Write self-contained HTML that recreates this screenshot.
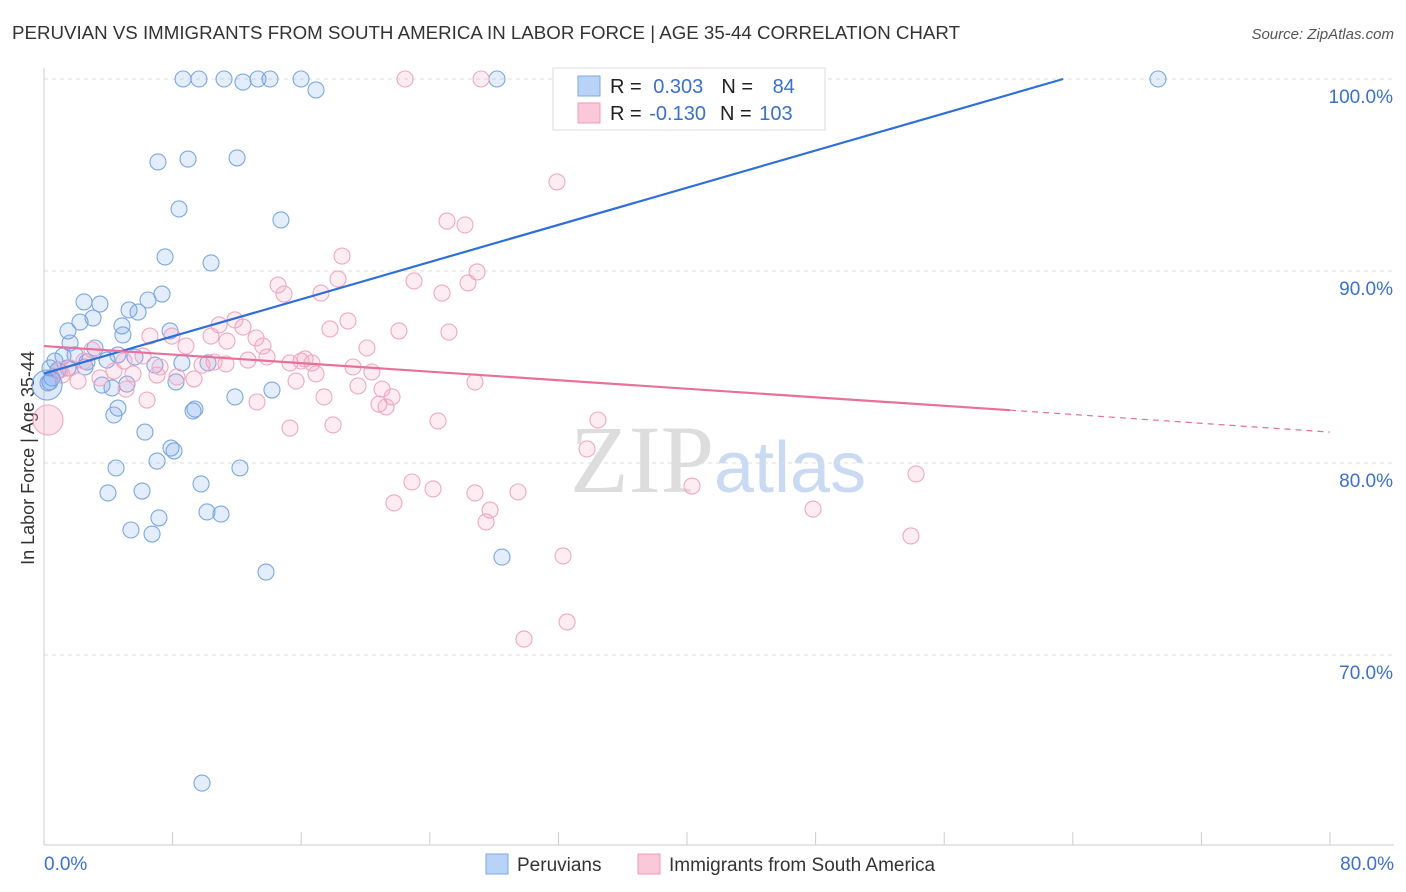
<!DOCTYPE html>
<html><head><meta charset="utf-8">
<style>
body{margin:0;background:#fff;font-family:"Liberation Sans",sans-serif;}
#wrap{position:relative;width:1406px;height:892px;overflow:hidden;}
svg{position:absolute;left:0;top:0;}
</style></head>
<body><div id="wrap">
<svg id="svg" width="1406" height="892">
<text x="12" y="39" font-size="18" fill="#333" textLength="948" lengthAdjust="spacingAndGlyphs">PERUVIAN VS IMMIGRANTS FROM SOUTH AMERICA IN LABOR FORCE | AGE 35-44 CORRELATION CHART</text>
<text x="1394" y="39" font-size="15" fill="#555" font-style="italic" text-anchor="end">Source: ZipAtlas.com</text>
<text x="714" y="492" font-size="96" fill="#ddd" font-family="Liberation Serif,serif" text-anchor="end">ZIP</text>
<text x="714" y="492" font-size="72" fill="#c9daf2">atlas</text>
<text transform="translate(34,458) rotate(-90)" font-size="18" fill="#333" text-anchor="middle">In Labor Force | Age 35-44</text>
<g id="grid"></g><g id="pts"></g><g id="lines"></g>
<rect x="553" y="68" width="272" height="62" fill="#fff" stroke="#ddd"/>
<rect x="578" y="76" width="22" height="20" fill="#b8d3f5" stroke="#7eaae6"/>
<rect x="578" y="103" width="22" height="20" fill="#fac8d8" stroke="#f09ab8"/>
<text x="610" y="93" font-size="20" fill="#222">R = <tspan fill="#3a70d0" dx="6">0.303</tspan><tspan dx="18">N = </tspan><tspan fill="#3a70d0" dx="14">84</tspan></text>
<text x="610" y="120" font-size="20" fill="#222">R = <tspan fill="#3a70d0" dx="2">-0.130</tspan><tspan dx="14">N = </tspan><tspan fill="#3a70d0" dx="2">103</tspan></text>
<text x="44" y="870" font-size="19" fill="#3a70d0">0.0%</text>
<text x="1394" y="870" font-size="19" fill="#3a70d0" text-anchor="end">80.0%</text>
<rect x="486" y="854" width="22" height="20" fill="#b8d3f5" stroke="#7eaae6"/>
<text x="517" y="871" font-size="19" fill="#333">Peruvians</text>
<rect x="638" y="854" width="22" height="20" fill="#fac8d8" stroke="#f09ab8"/>
<text x="669" y="871" font-size="19" fill="#333">Immigrants from South America</text>
</svg></div>
<script>
const yTicks=[100,90,80,70];
const yTickLabels=["100.0%","90.0%","80.0%","70.0%"];
const blueX=[8.65,9.64,11.2,12.38,13.31,14.06,15.99,16.92,28.18,69.3,7.09,8.96,12.01,8.4,14.74,7.53,10.39,2.49,3.48,5.29,6.47,7.34,5.85,3.05,2.24,1.49,4.85,4.91,7.84,1.62,3.17,1.18,1.93,0.68,2.67,3.92,4.6,5.66,6.9,8.58,10.2,0.37,0.87,1.49,2.55,0.5,0.37,3.61,4.23,5.16,8.21,14.18,11.88,4.6,4.35,9.39,9.27,6.28,7.9,8.09,7.03,4.48,12.19,9.77,3.98,6.1,10.14,11.01,7.15,5.41,6.72,13.81,28.49,9.83,0.25];
const blueY=[100,100,100,99.84,100,100,100,99.43,100,100,95.68,95.83,95.89,93.23,92.66,90.73,90.42,88.39,88.28,87.97,88.49,88.8,87.86,87.55,87.34,86.88,87.14,86.67,86.88,86.25,85.99,85.57,85.63,85.31,85.26,85.36,85.63,85.52,85.1,85.21,85.21,84.95,84.84,84.95,85.0,84.43,84.22,84.06,83.91,84.11,84.22,83.8,83.44,82.86,82.5,82.81,82.71,81.61,80.78,80.63,80.1,79.74,79.74,78.91,78.44,78.54,77.45,77.34,77.14,76.51,76.3,74.32,75.1,63.33,84.17];
const pinkX=[22.46,27.19,31.91,25.07,26.19,18.54,26.94,26.38,23.02,18.29,14.56,14.93,17.23,24.76,11.88,10.89,12.38,18.91,17.79,22.08,25.19,6.59,7.96,8.83,10.39,11.38,13.19,13.62,20.09,16.24,12.69,13.87,15.99,10.58,9.83,16.67,19.22,20.4,16.92,15.68,8.27,9.33,7.03,5.54,3.48,4.35,26.81,19.53,21.03,17.42,6.41,13.25,21.65,20.84,21.28,34.46,33.78,15.3,17.98,24.51,22.89,24.2,26.81,29.49,40.31,54.25,21.77,27.75,27.5,47.84,53.93,32.29,29.86,32.54,2.99,2.49,1.62,1.12,2.12,4.98,7.22,11.32,15.3,5.1,6.16,1.0];
const pinkY=[100,100,94.64,92.6,92.4,90.78,89.95,89.38,89.48,89.58,89.27,88.8,88.85,88.85,87.45,87.19,87.08,87.4,86.98,86.88,86.82,86.61,86.61,86.09,86.61,86.35,86.51,86.09,85.99,85.42,85.36,85.52,85.31,85.26,85.1,85.21,85.0,84.74,84.64,84.27,84.48,84.38,84.58,84.64,84.43,84.79,84.22,84.01,83.85,83.44,83.28,83.18,83.44,83.07,82.92,82.24,80.73,81.82,81.98,82.19,79.01,78.65,78.44,78.49,78.8,79.43,77.92,77.55,76.93,77.6,76.2,75.16,70.83,71.72,85.89,85.31,84.95,84.58,84.27,85.31,85.0,85.16,85.21,83.85,85.57,84.84];
const bigBlue=[0.19,84.06], bigPink=[0.25,82.24];
const blueTrend=[0,84.66,63.4,100];
const pinkTrend=[0,86.09,60.1,82.75,80,81.61];
const X=v=>44+v*16.075, Y=v=>79+(100-v)*19.2;
const NS="http://www.w3.org/2000/svg";
function mk(t,a,p){const e=document.createElementNS(NS,t);for(const k in a)e.setAttribute(k,a[k]);p.appendChild(e);return e;}
const grid=document.getElementById('grid'),svg=document.getElementById('svg');
yTicks.forEach((t,i)=>{
 const l=mk('line',{x1:44,x2:1394,y1:Y(t),y2:Y(t),stroke:'#ddd','stroke-dasharray':'4,4'},grid);
 
 
 const tx=mk('text',{x:1393,y:Y(t)+24,'font-size':19,fill:'#3a70d0','text-anchor':'end'},grid);
 tx.textContent=yTickLabels[i];
 
 
});
const ax=mk('line',{x1:44,x2:44,y1:68,y2:845,stroke:'#ccc'},grid);


const bx=mk('line',{x1:44,x2:1394,y1:845,y2:845,stroke:'#ccc'},grid);


for(let i=0;i<=10;i++){
 const t=mk('line',{x1:X(i*8),x2:X(i*8),y1:832,y2:845,stroke:'#ccc'},grid);
 
 
}
const pts=document.getElementById('pts');
function dot(x,y,r,f,s,name){
 const c=mk('circle',{cx:X(x),cy:Y(y),r:r,fill:f,stroke:s,'stroke-width':1.1},pts);
 
 
}
blueX.forEach((x,i)=>dot(x,blueY[i],8,'rgba(120,165,235,0.2)','#7aa7e3','peruvian-point'));
pinkX.forEach((x,i)=>dot(x,pinkY[i],8,'rgba(245,160,190,0.2)','#f0a8c0','immigrant-point'));
dot(bigBlue[0],bigBlue[1],15,'rgba(120,165,235,0.25)','#7aa7e3','peruvian-point-large');
dot(bigPink[0],bigPink[1],15,'rgba(245,160,190,0.3)','#f0a8c0','immigrant-point-large');
const lines=document.getElementById('lines');
const bl=mk('line',{x1:X(blueTrend[0]),y1:Y(blueTrend[1]),x2:X(blueTrend[2]),y2:Y(blueTrend[3]),stroke:'#2f6fd8','stroke-width':2.2},lines);


const pl=mk('line',{x1:X(pinkTrend[0]),y1:Y(pinkTrend[1]),x2:X(pinkTrend[2]),y2:Y(pinkTrend[3]),stroke:'#e8709a','stroke-width':2.2},lines);


const pd=mk('line',{x1:X(pinkTrend[2]),y1:Y(pinkTrend[3]),x2:X(pinkTrend[4]),y2:Y(pinkTrend[5]),stroke:'#e8709a','stroke-width':1.2,'stroke-dasharray':'6,5'},lines);


</script>
</body></html>
